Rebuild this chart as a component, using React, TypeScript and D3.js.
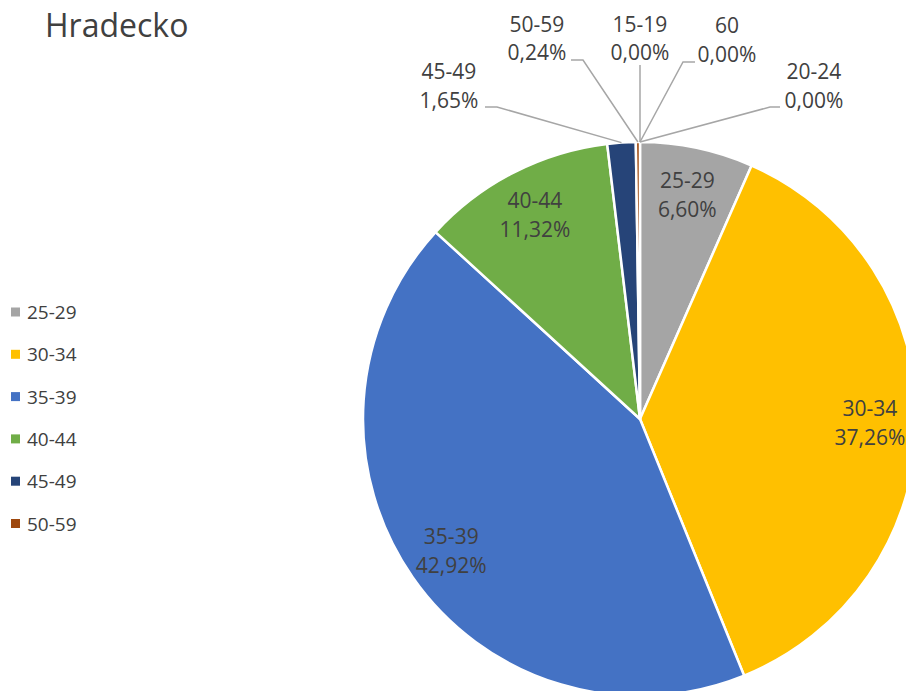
import React from "react";
import * as d3 from "d3";

const categories = ["25-29", "30-34", "35-39", "40-44", "45-49", "50-59", "15-19", "60", "20-24"];
const shares = [6.6, 37.26, 42.92, 11.32, 1.65, 0.24, 0, 0, 0];
const legendCategories = ["25-29", "30-34", "35-39", "40-44", "45-49", "50-59"];
const colors = ["#A5A5A5", "#FFC000", "#4472C4", "#70AD47", "#264478", "#9E480E", "#636363", "#997300", "#255E91"];
const title = "Hradecko";

// layout for labels placed outside the pie (text centre x, two baselines, leader start + elbow)
const outsideLayout: Record<string, { x: number; y1: number; y2: number; sx: number; sy: number; ex: number; ey: number }> = {
  "45-49": { x: 449, y1: 79, y2: 108, sx: 485, sy: 107, ex: 497, ey: 107 },
  "50-59": { x: 537, y1: 32, y2: 60, sx: 571, sy: 60, ex: 583, ey: 60 },
  "15-19": { x: 640, y1: 32, y2: 60, sx: 640, sy: 65, ex: 640, ey: 65 },
  "60": { x: 727, y1: 33, y2: 62, sx: 695, sy: 62, ex: 683, ey: 62 },
  "20-24": { x: 814, y1: 79, y2: 108, sx: 780, sy: 107, ex: 770, ey: 107 },
};

const W = 906;
const H = 691;
const CX = 640;
const CY = 419;
const R = 277;
const FONT = "'Open Sans', 'Noto Sans', sans-serif";
const TEXT = "#404040";

const fmt = (v: number) => v.toFixed(2).replace(".", ",") + "%";

export default function App() {
  const data = categories.map((c, i) => ({ name: c, value: shares[i], color: colors[i] }));
  const pie = d3.pie<any>().value((d) => d.value).sort(null).startAngle(0).endAngle(2 * Math.PI);
  const arcs = pie(data);
  const arc = d3.arc<any>().innerRadius(0).outerRadius(R);
  const labelArc = d3.arc<any>().innerRadius(R * 0.83).outerRadius(R * 0.83);

  return (
    <svg width={W} height={H} style={{ position: "absolute", left: 0, top: 0, background: "#fff" }} fontFamily={FONT}>
      <text x={45} y={37} fontSize={32} fill={TEXT}>{title}</text>
      <g transform={`translate(${CX},${CY})`}>
        {arcs.map((a, i) => (
          a.value > 0 ? (
            <path key={i} d={arc(a) || ""} fill={a.data.color} stroke="#fff" strokeWidth={2.5} strokeLinejoin="round" />
          ) : null
        ))}
      </g>
      {arcs.map((a, i) => {
        const L = outsideLayout[a.data.name];
        if (L) {
          const mid = (a.startAngle + a.endAngle) / 2;
          const px = CX + Math.sin(mid) * R;
          const py = CY - Math.cos(mid) * R;
          return (
            <g key={"l" + i}>
              <polyline points={`${L.sx},${L.sy} ${L.ex},${L.ey} ${px},${py}`} fill="none" stroke="#A6A6A6" strokeWidth={1.5} />
              <text x={L.x} y={L.y1} textAnchor="middle" fontSize={21} fill={TEXT}>{a.data.name}</text>
              <text x={L.x} y={L.y2} textAnchor="middle" fontSize={21} fill={TEXT}>{fmt(a.data.value)}</text>
            </g>
          );
        }
        const [lx, ly] = labelArc.centroid(a);
        return (
          <g key={"l" + i}>
            <text x={CX + lx} y={CY + ly - 6.5} textAnchor="middle" fontSize={21} fill={TEXT}>{a.data.name}</text>
            <text x={CX + lx} y={CY + ly + 22.5} textAnchor="middle" fontSize={21} fill={TEXT}>{fmt(a.data.value)}</text>
          </g>
        );
      })}
      {legendCategories.map((c, i) => {
        const y = 312 + i * 42.3;
        const col = colors[categories.indexOf(c)];
        return (
          <g key={"lg" + i}>
            <rect x={11} y={y - 4.5} width={9} height={9} fill={col} />
            <text x={27} y={y + 7} fontSize={19} fill={TEXT}>{c}</text>
          </g>
        );
      })}
    </svg>
  );
}
